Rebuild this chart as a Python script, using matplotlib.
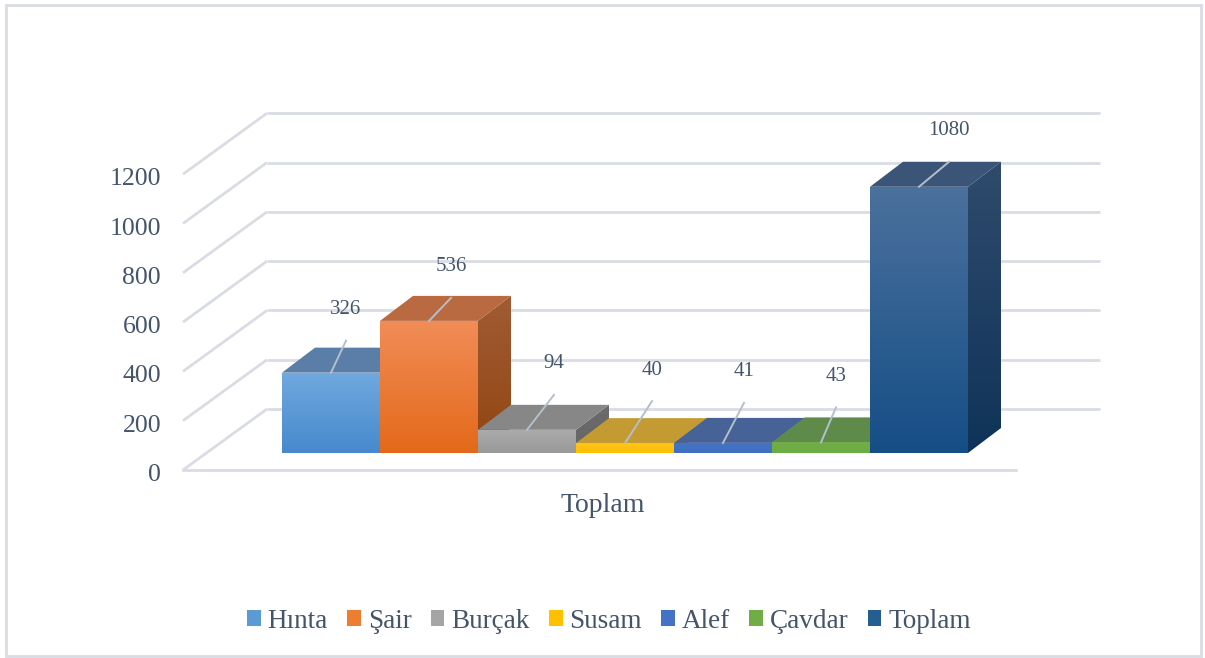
import matplotlib
matplotlib.use('Agg')
import matplotlib.pyplot as plt
import numpy as np
from matplotlib.patches import Polygon, Rectangle, Patch
from matplotlib.colors import to_rgb

# ---------------- data ----------------
categories = ['Hınta', 'Şair', 'Burçak', 'Susam', 'Alef', 'Çavdar', 'Toplam']
values = [326, 536, 94, 40, 41, 43, 1080]
y_ticks = [0, 200, 400, 600, 800, 1000, 1200]
x_label = 'Toplam'

# ---------------- styles ----------------
front_top = ['#71a9e0', '#f18d57', '#ababab', '#ffc51a', '#4674c6', '#72ae49', '#4b719d']
front_bot = ['#4689cc', '#e3691a', '#999999', '#ffbe00', '#3f6fc2', '#6dab43', '#154e86']
top_col = ['#5a7ea8', '#b96a40', '#878787', '#c49a32', '#466296', '#5f8b4a', '#3a5577']
side_top = ['#46709e', '#a05c34', '#6b6b6b', '#a07a10', '#2f5597', '#4e7a32', '#2f4b6d']
side_bot = ['#3a6594', '#934512', '#666666', '#9a740c', '#2b5090', '#4a7530', '#0f3358']
legend_col = ['#5b9bd5', '#ed7d31', '#a5a5a5', '#ffc000', '#4472c4', '#70ad47', '#255e91']
# leader-line end offsets (px) per label
leader_off = [(15, 32), (22, 23), (27, 35), (27, 42), (21, 40), (15, 35), (30, 25)]

TXT = '#44546a'
GRID = '#d9dde3'
FONT = 'Liberation Serif'

W, H = 1205, 658
fig = plt.figure(figsize=(W / 100, H / 100), dpi=100)
ax = fig.add_axes([0, 0, 1, 1])
ax.axis('off')

K = 0.2465      # px per value unit
BASE = 453      # pixel row of bar bases


def u(px):
    return px / K


YMIN, YMAX = (BASE - H) / K, BASE / K

# ---------- walls / gridlines ----------
FLOOR_V = -u(17)
WALL_V = u(44)
XF, XB, XR = 183, 267, 1100
for t in y_ticks:
    ax.plot([XF, XB], [FLOOR_V + t, WALL_V + t], color=GRID, lw=2, zorder=1,
            solid_capstyle='butt')
    ax.plot([XB, XR], [WALL_V + t, WALL_V + t], color=GRID, lw=2, zorder=1,
            solid_capstyle='butt')
    ax.text(161, FLOOR_V + t - u(5), str(t), ha='right', va='center', fontsize=18.5,
            color=TXT, family=FONT)
ax.plot([XF, XR - (XB - XF)], [FLOOR_V, FLOOR_V], color=GRID, lw=2, zorder=1)

# ---------- bars ----------
X0, BW, DX, DV = 282, 98, 33, u(25)


def grad_poly(verts, c_top, c_bot, z):
    poly = Polygon(verts, closed=True, facecolor='none', edgecolor='none', zorder=z)
    ax.add_patch(poly)
    xs = [p[0] for p in verts]
    ys = [p[1] for p in verts]
    t = np.linspace(0, 1, 256)[:, None]
    ct, cb = np.array(to_rgb(c_top)), np.array(to_rgb(c_bot))
    img = (ct * (1 - t) + cb * t)[:, None, :]
    im = ax.imshow(img, extent=(min(xs), max(xs), min(ys), max(ys)), origin='upper',
                   aspect='auto', zorder=z, interpolation='bilinear')
    im.set_clip_path(poly)


for i, v in enumerate(values):
    xl = X0 + i * BW
    xr = xl + BW
    z = 3 + i * 0.1
    grad_poly([(xr, 0), (xr + DX, DV), (xr + DX, v + DV), (xr, v)],
              side_top[i], side_bot[i], z)
    ax.add_patch(Polygon([(xl, v), (xl + DX, v + DV), (xr + DX, v + DV), (xr, v)],
                         closed=True, facecolor=top_col[i], edgecolor='none', zorder=z + 0.01))
    grad_poly([(xl, 0), (xr, 0), (xr, v), (xl, v)], front_top[i], front_bot[i], z + 0.02)
    # leader line + label
    cx = (xl + xr) / 2
    dx, dy = leader_off[i]
    ax.plot([cx, cx + dx], [v, v + u(dy)], color='#b4bfcc', lw=1.4, zorder=z + 0.05)
    ax.text(cx + dx, v + u(dy + 31), str(v), ha='center', va='center', fontsize=15,
            color=TXT, family=FONT, zorder=10)

# ---------- axis label ----------
ax.text(603, (BASE - 506) / K, x_label, ha='center', va='center', fontsize=20,
        color=TXT, family=FONT)

ax.set_xlim(0, W)
ax.set_ylim(YMIN, YMAX)

# ---------- legend ----------
handles = [Patch(facecolor=c, edgecolor='none', label=n) for c, n in zip(legend_col, categories)]
fig.legend(handles=handles, loc='center', bbox_to_anchor=(609 / W, 1 - 621 / H), ncol=7,
           frameon=False, handlelength=0.5, handleheight=0.5, handletextpad=0.25,
           columnspacing=0.72, prop={'family': FONT, 'size': 19.5}, labelcolor=TXT)

# ---------- border ----------
fig.patches.append(Rectangle((6 / W, 2 / H), 1195 / W, 651 / H, transform=fig.transFigure,
                             fill=False, edgecolor=GRID, lw=2))

fig.savefig('out.png', dpi=100, facecolor='white')
